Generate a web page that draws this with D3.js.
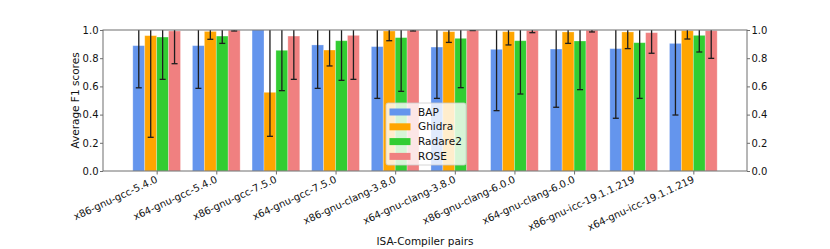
<!DOCTYPE html>
<html><head>
<meta charset="utf-8">
<script src="https://cdn.jsdelivr.net/npm/d3@7/dist/d3.min.js"></script>
<style>
  body { margin: 0; background: #fff; }
  svg text { font-family: "DejaVu Sans", sans-serif; fill: #111; }
  .axis path, .axis line { stroke: #6e6e6e; }
</style>
</head>
<body>
<svg id="chart" width="830" height="249"></svg>
<script>

// categories on the x axis
const pairs = ["x86-gnu-gcc-5.4.0", "x64-gnu-gcc-5.4.0", "x86-gnu-gcc-7.5.0", "x64-gnu-gcc-7.5.0",
  "x86-gnu-clang-3.8.0", "x64-gnu-clang-3.8.0", "x86-gnu-clang-6.0.0", "x64-gnu-clang-6.0.0",
  "x86-gnu-icc-19.1.1.219", "x64-gnu-icc-19.1.1.219"];

const tools = ["BAP", "Ghidra", "Radare2", "ROSE"];
const colors = ["#6495ED", "#FFA500", "#32CD32", "#F08080"];

// mean F1 per tool
const bapF1     = [0.889, 0.889, 1.000, 0.894, 0.882, 0.879, 0.863, 0.865, 0.868, 0.905];
const ghidraF1  = [0.960, 0.990, 0.558, 0.858, 0.993, 0.988, 0.988, 0.986, 0.986, 0.995];
const radare2F1 = [0.950, 0.957, 0.856, 0.924, 0.946, 0.941, 0.924, 0.922, 0.910, 0.962];
const roseF1    = [0.993, 0.998, 0.957, 0.962, 0.998, 0.998, 0.997, 0.998, 0.981, 0.995];

// error bar ends (upper ends run past 1.0 and are clipped)
const bapLow     = [0.590, 0.586, 1.000, 0.586, 0.515, 0.515, 0.428, 0.452, 0.374, 0.397];
const bapHigh    = [1.19, 1.19, 1.00, 1.20, 1.25, 1.24, 1.30, 1.28, 1.36, 1.41];
const ghidraLow  = [0.239, 0.934, 0.246, 0.745, 0.924, 0.912, 0.894, 0.905, 0.868, 0.936];
const ghidraHigh = [1.68, 1.05, 1.10, 1.02, 1.06, 1.06, 1.08, 1.07, 1.10, 1.05];
const radare2Low  = [0.650, 0.905, 0.570, 0.643, 0.565, 0.591, 0.546, 0.577, 0.515, 0.844];
const radare2High = [1.25, 1.01, 1.14, 1.20, 1.33, 1.29, 1.30, 1.27, 1.30, 1.08];
const roseLow  = [0.761, 0.993, 0.650, 0.650, 0.993, 0.996, 0.981, 0.986, 0.835, 0.799];
const roseHigh = [1.23, 1.003, 1.26, 1.27, 1.003, 1.00, 1.013, 1.01, 1.127, 1.19];

const yTicks = [0, 0.2, 0.4, 0.6, 0.8, 1.0];

const series = [
  { name: tools[0], vals: bapF1, lo: bapLow, hi: bapHigh },
  { name: tools[1], vals: ghidraF1, lo: ghidraLow, hi: ghidraHigh },
  { name: tools[2], vals: radare2F1, lo: radare2Low, hi: radare2High },
  { name: tools[3], vals: roseF1, lo: roseLow, hi: roseHigh }
];

const plotL = 103, plotR = 747, plotT = 30, plotB = 171;
const barW = 0.2;
const fs = "10.5px";   // titles, legend
const tfs = "10px";    // tick labels

const svg = d3.select("#chart");

const x = d3.scaleLinear().domain([-0.9, pairs.length - 0.1]).range([plotL, plotR]);
const y = d3.scaleLinear().domain([0, 1]).range([plotB, plotT]);

svg.append("clipPath").attr("id", "plotclip")
  .append("rect").attr("x", plotL).attr("y", plotT).attr("width", plotR - plotL).attr("height", plotB - plotT);

const plot = svg.append("g").attr("clip-path", "url(#plotclip)");

// bars
series.forEach(function(s, si) {
  plot.selectAll(".bar" + si)
    .data(s.vals)
    .enter().append("rect")
      .attr("x", (d, i) => x(i - 0.4 + barW * si))
      .attr("width", x(barW) - x(0))
      .attr("y", d => y(d))
      .attr("height", d => y(0) - y(d))
      .style("fill", colors[si])
      .style("stroke", "#fff")
      .style("stroke-opacity", 0.35)
      .style("stroke-width", 0.8);
});

// error bars
series.forEach(function(s, si) {
  s.vals.forEach(function(v, i) {
    const cx = x(i - 0.3 + barW * si);
    if (s.hi[i] - s.lo[i] < 0.001) return;
    const g = plot.append("g").style("stroke", "#1e1e1e").style("stroke-width", 1.3);
    g.append("line").attr("x1", cx).attr("x2", cx).attr("y1", y(s.lo[i])).attr("y2", y(s.hi[i]));
    g.append("line").attr("x1", cx - 3).attr("x2", cx + 3).attr("y1", y(s.lo[i])).attr("y2", y(s.lo[i]));
    g.append("line").attr("x1", cx - 3).attr("x2", cx + 3).attr("y1", y(s.hi[i])).attr("y2", y(s.hi[i]));
  });
});

// frame
svg.append("rect").attr("x", plotL).attr("y", plotT).attr("width", plotR - plotL).attr("height", plotB - plotT)
  .style("fill", "none").style("stroke", "#6e6e6e").style("stroke-width", 1);

// axes
const xAxis = svg.append("g").attr("class", "axis").attr("transform", "translate(0," + plotB + ")")
  .call(d3.axisBottom(x).tickValues(d3.range(pairs.length)).tickFormat(i => pairs[i]).tickSizeOuter(0).tickSize(3.5));
xAxis.select(".domain").remove();
xAxis.selectAll("text")
  .style("font-size", tfs)
  .attr("text-anchor", "end")
  .attr("y", 0).attr("dy", "0.75em")
  .attr("transform", "translate(-2,4) rotate(-25)");

const yAxis = svg.append("g").attr("class", "axis").attr("transform", "translate(" + plotL + ",0)")
  .call(d3.axisLeft(y).tickValues(yTicks).tickFormat(d3.format(".1f")).tickSizeOuter(0).tickSize(3).tickPadding(1.5));
yAxis.select(".domain").remove();
yAxis.selectAll("text").style("font-size", tfs);

const yAxis2 = svg.append("g").attr("class", "axis").attr("transform", "translate(" + plotR + ",0)")
  .call(d3.axisRight(y).tickValues(yTicks).tickFormat(d3.format(".1f")).tickSizeOuter(0).tickSize(3).tickPadding(1.5));
yAxis2.select(".domain").remove();
yAxis2.selectAll("text").style("font-size", tfs);

// axis titles
svg.append("text").attr("x", (plotL + plotR) / 2).attr("y", 245)
  .attr("text-anchor", "middle").style("font-size", fs).text("ISA-Compiler pairs");
svg.append("text").attr("transform", "translate(79," + ((plotT + plotB) / 2) + ") rotate(-90)")
  .attr("text-anchor", "middle").style("font-size", fs).text("Average F1 scores");

// legend
const lg = svg.append("g").attr("transform", "translate(386,103)");
lg.append("rect").attr("width", 80).attr("height", 62).attr("rx", 2)
  .style("fill", "#fff").style("fill-opacity", 0.8).style("stroke", "#ccc").style("stroke-width", 0.8);
tools.forEach(function(t, i) {
  lg.append("rect").attr("x", 3.5).attr("y", 5.5 + i * 14.8).attr("width", 21).attr("height", 7)
    .style("fill", colors[i]);
  lg.append("text").attr("x", 32).attr("y", 9 + i * 14.8).attr("dy", "0.35em")
    .style("font-size", fs).text(t);
});

</script>
</body></html>
